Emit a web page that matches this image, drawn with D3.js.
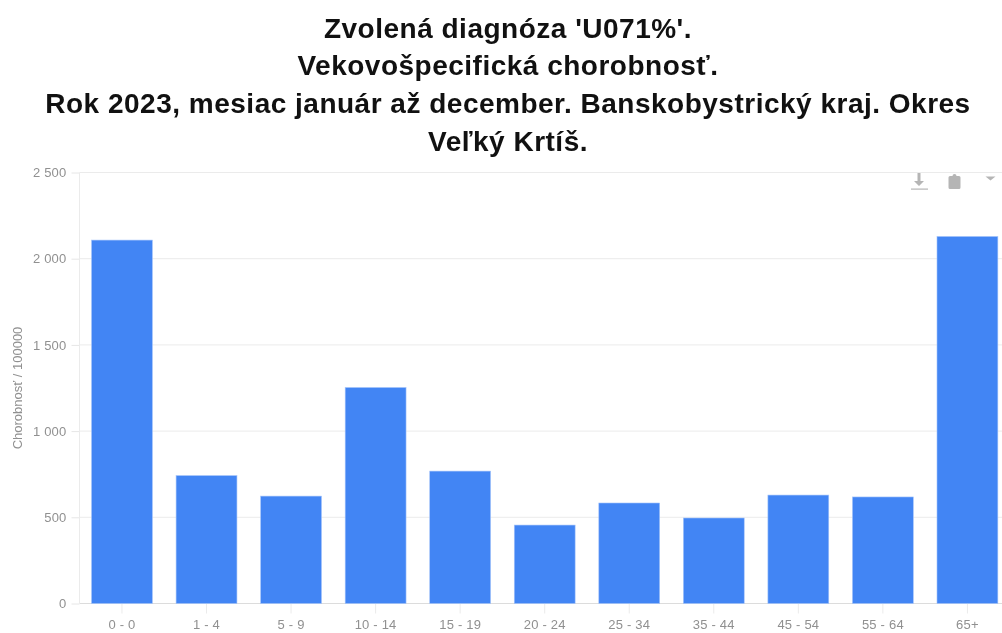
<!DOCTYPE html>
<html><head><meta charset="utf-8">
<script src="https://cdn.jsdelivr.net/npm/d3@7"></script>
<style>html,body{margin:0;padding:0;background:#fff;overflow:hidden}svg{display:block;filter:blur(0.4px)}</style>
</head><body><div id="c"></div>
<script>
const categories=["0 - 0","1 - 4","5 - 9","10 - 14","15 - 19","20 - 24","25 - 34","35 - 44","45 - 54","55 - 64","65+"];
const values=[2108,742,623,1253,768,455,583,496,629,618,2129];
const yTicks=[0,500,1000,1500,2000,2500];
const titleLines=["Zvolená diagnóza 'U071%'.","Vekovošpecifická chorobnosť.","Rok 2023, mesiac január až december. Banskobystrický kraj. Okres","Veľký Krtíš."];
const yLabel="Chorobnosť / 100000";
const W=1002,H=633;
const svg=d3.select("#c").append("svg").attr("width",W).attr("height",H);
const x=d3.scaleBand().domain(categories).range([79.7,1009.7]).paddingInner(0.28).paddingOuter(0.14);
const y=d3.scaleLinear().domain([0,2500]).range([603.5,172.5]);
const fmt=d=>d3.format(",")(d).replace(/,/g," ");
const font="Liberation Sans, Arial, sans-serif";
svg.append("g").selectAll("text").data(titleLines).join("text")
 .attr("x",508).attr("y",(d,i)=>37.5+i*37.7).attr("text-anchor","middle")
 .attr("font-family",font).attr("font-weight","bold").attr("font-size",28).attr("letter-spacing",0.5).attr("fill","#111").text(d=>d);
const gy=svg.append("g").attr("transform","translate(79.5,0)")
 .call(d3.axisLeft(y).tickValues(yTicks).tickSize(8).tickPadding(5).tickFormat(fmt));
gy.select(".domain").remove();
gy.selectAll(".tick line").attr("stroke","#e6e6e6");
gy.selectAll(".tick text").attr("font-family",font).attr("font-size",13).attr("letter-spacing",0.2).attr("fill","#909090");
svg.append("g").selectAll("line").data(yTicks).join("line")
 .attr("x1",79.5).attr("x2",W).attr("y1",d=>y(d)).attr("y2",d=>y(d)).attr("stroke",d=>d===0?"#dcdcdc":"#ebebeb");
svg.append("line").attr("x1",79.5).attr("x2",79.5).attr("y1",172.5).attr("y2",603.5).attr("stroke","#ebebeb");
const gx=svg.append("g").attr("transform","translate(0,603.5)")
 .call(d3.axisBottom(x).tickSize(10).tickPadding(6));
gx.select(".domain").remove();
gx.selectAll(".tick line").attr("stroke","#ebebeb");
gx.selectAll(".tick text").attr("font-family",font).attr("font-size",13).attr("letter-spacing",0.2).attr("fill","#909090");
svg.append("g").selectAll("rect").data(values).join("rect")
 .attr("x",(d,i)=>x(categories[i])).attr("width",x.bandwidth())
 .attr("y",d=>y(d)).attr("height",d=>y(0)-y(d)).attr("fill","#4285f4").attr("stroke","#a6c5fa").attr("stroke-width",0.6);
svg.append("text").attr("transform","translate(22,388) rotate(-90)").attr("text-anchor","middle")
 .attr("font-family",font).attr("font-size",13).attr("fill","#909090").text(yLabel);
const ic=svg.append("g").attr("fill","#b5b5b5");
ic.append("path").attr("d","M917.500 173h3v8h3.500l-5 5-5-5h3.500z");
ic.append("rect").attr("x",911).attr("y",188.500).attr("width",17).attr("height",1.2);
ic.append("path").attr("d","M950 176h2.500a2 2 0 0 1 4 0h2.500a1.500 1.500 0 0 1 1.500 1.500v10a1.500 1.500 0 0 1-1.500 1.500h-9a1.500 1.500 0 0 1-1.500-1.500v-10a1.500 1.500 0 0 1 1.500-1.500z");
ic.append("path").attr("d","M985.500 176.500h10l-5 4z");
</script></body></html>
